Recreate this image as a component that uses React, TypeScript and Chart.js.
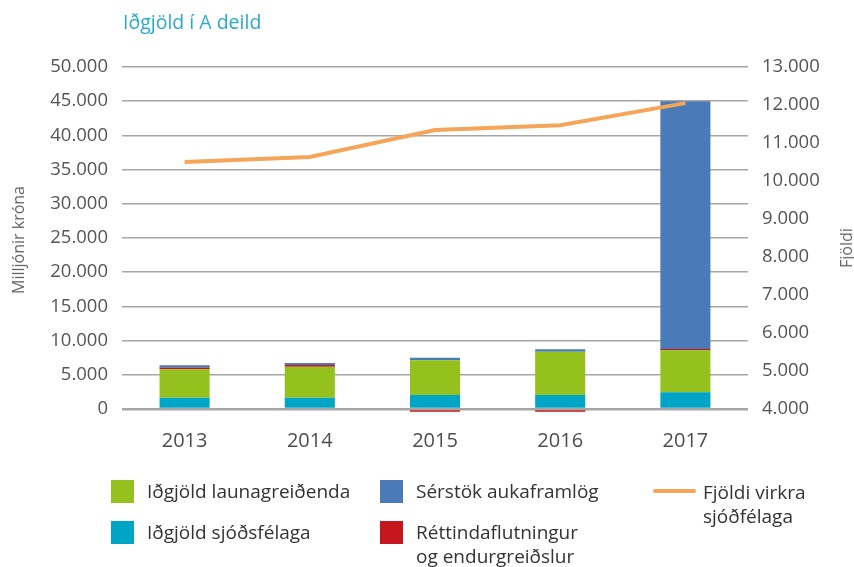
import React, { useEffect, useRef } from 'react';
import { Chart, registerables } from 'chart.js';
Chart.register(...registerables);

// Data
const categories = ['2013', '2014', '2015', '2016', '2017'];
const idgjoldSjodsfelaga = [1650, 1650, 2050, 2050, 2440];
const idgjoldLaunagreidenda = [4150, 4530, 5070, 6330, 6140];
const rettindaflutningur = [230, 250, -420, -420, 200];
const serstokAukaframlog = [350, 300, 380, 350, 36220];
const fjoldiVirkra = [10500, 10630, 11340, 11470, 12050];

const titleText = 'Iðgjöld í A deild';
const leftAxisTitle = 'Milljónir króna';
const rightAxisTitle = 'Fjöldi';

const GREEN = '#95C11F';
const CYAN = '#00A5C5';
const BLUE = '#4A7AB7';
const RED = '#C4161C';
const ORANGE = '#F5A55A';
const FONT = '"Open Sans", sans-serif';
const TICK = '#555555';

const fmt = (v: number) => String(v).replace(/\B(?=(\d{3})+(?!\d))/g, '.');

export default function App() {
  const ref = useRef<HTMLCanvasElement>(null);
  useEffect(() => {
    const chart = new Chart(ref.current!, {
      type: 'bar',
      data: {
        labels: categories,
        datasets: [
          {
            type: 'line',
            label: 'Fjöldi virkra sjóðfélaga',
            data: fjoldiVirkra,
            yAxisID: 'y1',
            borderColor: ORANGE,
            backgroundColor: ORANGE,
            borderWidth: 4,
            pointRadius: 0,
            tension: 0,
            order: 0,
          } as any,
          { label: 'Iðgjöld sjóðsfélaga', data: idgjoldSjodsfelaga, backgroundColor: CYAN, order: 1 },
          { label: 'Iðgjöld launagreiðenda', data: idgjoldLaunagreidenda, backgroundColor: GREEN, order: 1 },
          { label: 'Réttindaflutningur og endurgreiðslur', data: rettindaflutningur, backgroundColor: RED, order: 1, clip: false as any },
          { label: 'Sérstök aukaframlög', data: serstokAukaframlog, backgroundColor: BLUE, order: 1 },
        ],
      },
      options: {
        responsive: false,
        animation: false,
        devicePixelRatio: 1,
        datasets: { bar: { categoryPercentage: 1, barPercentage: 0.4 } },
        layout: { padding: { top: 67, left: 0, right: 0, bottom: 0 } },
        plugins: { legend: { display: false }, tooltip: { enabled: false } },
        scales: {
          x: {
            stacked: true,
            grid: { display: false },
            border: { display: false },
            ticks: { font: { family: FONT, size: 20, weight: 500 }, color: '#4d4d4d', padding: 12 },
            afterFit: (s: any) => { s.height = 158; },
          },
          y: {
            stacked: true,
            min: 0,
            max: 50000,
            ticks: {
              stepSize: 5000,
              callback: (v: any) => fmt(Number(v)),
              font: { family: FONT, size: 18.5 },
              color: TICK,
              padding: 14,
            },
            grid: {
              color: '#A6A6A6',
              lineWidth: (ctx: any) => (ctx.index === 0 ? 2.5 : 1.5),
              drawTicks: false,
            },
            border: { display: false },
            afterFit: (s: any) => { s.width = 122; },
          },
          y1: {
            position: 'right',
            min: 4000,
            max: 13000,
            ticks: {
              stepSize: 1000,
              callback: (v: any) => fmt(Number(v)),
              font: { family: FONT, size: 18.5 },
              color: TICK,
              padding: 14,
            },
            grid: { display: false, drawTicks: false },
            border: { display: false },
            afterFit: (s: any) => { s.width = 106; },
          },
        },
      } as any,
    });
    return () => chart.destroy();
  }, []);

  const legendText: React.CSSProperties = {
    position: 'absolute',
    fontFamily: FONT,
    fontSize: 19,
    color: '#333',
    lineHeight: '24px',
    whiteSpace: 'nowrap',
  };
  const sq = (x: number, y: number, c: string): React.CSSProperties => ({
    position: 'absolute', left: x, top: y, width: 23, height: 23, background: c,
  });

  return (
    <div style={{ position: 'absolute', left: 0, top: 0, width: 854, height: 567, background: '#fff', overflow: 'hidden' }}>
      <canvas ref={ref} width={854} height={567} style={{ position: 'absolute', left: 0, top: 0, width: 854, height: 567 }} />
      <div style={{ position: 'absolute', left: 123, top: 8, fontFamily: FONT, fontSize: 19.5, color: '#29A9CE', whiteSpace: 'nowrap', lineHeight: '28px' }}>{titleText}</div>
      <div style={{ position: 'absolute', left: 18, top: 240, transform: 'translate(-50%, -50%) rotate(-90deg)', fontFamily: FONT, fontSize: 16, color: '#666', whiteSpace: 'nowrap' }}>{leftAxisTitle}</div>
      <div style={{ position: 'absolute', left: 846, top: 248, transform: 'translate(-50%, -50%) rotate(-90deg)', fontFamily: FONT, fontSize: 16, color: '#666', whiteSpace: 'nowrap' }}>{rightAxisTitle}</div>

      <div style={sq(111, 480, GREEN)} />
      <div style={{ ...legendText, left: 147, top: 479 }}>Iðgjöld launagreiðenda</div>
      <div style={sq(111, 521, CYAN)} />
      <div style={{ ...legendText, left: 147, top: 520 }}>Iðgjöld sjóðsfélaga</div>

      <div style={sq(380, 480, BLUE)} />
      <div style={{ ...legendText, left: 416, top: 479 }}>Sérstök aukaframlög</div>
      <div style={sq(380, 521, RED)} />
      <div style={{ ...legendText, left: 416, top: 520 }}>Réttindaflutningur<br />og endurgreiðslur</div>

      <div style={{ position: 'absolute', left: 653, top: 489, width: 43, height: 4, background: ORANGE, borderRadius: 2 }} />
      <div style={{ ...legendText, left: 703, top: 480 }}>Fjöldi virkra<br />sjóðfélaga</div>
    </div>
  );
}
